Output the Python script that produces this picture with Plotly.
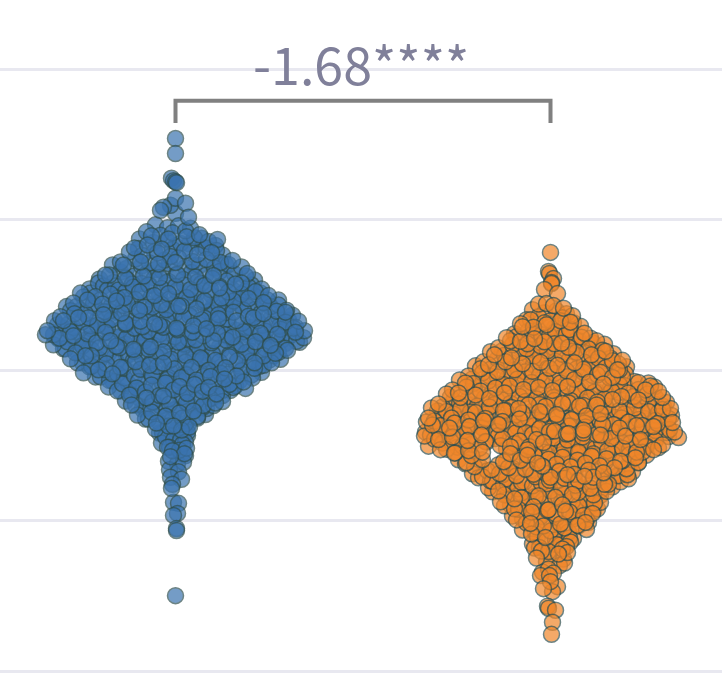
"""
    Swarm plot of two groups with a significance bracket
"""
import plotly.graph_objects as go

group_position = [0, 3.75]
grid_values = [0, 3, 6, 9, 12]
bracket_label = '-1.68****'

blue_value = [
    10.62, 10.32, 9.83, 9.78, 9.76, 9.74, 9.43, 9.25, 9.19, 9.33, 9.05, 9.13, 9.29,
    8.90, 8.84, 8.88, 8.83,
    8.76, 8.69, 8.74, 8.78, 8.70,
    8.62, 8.55, 8.60, 8.53, 8.64, 8.57, 8.61,
    8.44, 8.50, 8.42, 8.48, 8.52, 8.45, 8.49,
    8.36, 8.29, 8.34, 8.27, 8.38, 8.31, 8.35, 8.30,
    8.16, 8.22, 8.14, 8.20, 8.24, 8.17, 8.21, 8.15, 8.19,
    8.10, 8.03, 8.08, 8.01, 8.12, 8.05, 8.09, 8.04, 8.11, 8.06,
    7.90, 7.96, 7.88, 7.94, 7.98, 7.91, 7.95, 7.89, 7.97, 7.92, 7.93,
    7.82, 7.75, 7.80, 7.73, 7.84, 7.77, 7.81, 7.76, 7.83, 7.78, 7.74, 7.80,
    7.62, 7.68, 7.60, 7.66, 7.70, 7.63, 7.67, 7.61, 7.69, 7.64, 7.59, 7.66, 7.62,
    7.54, 7.47, 7.52, 7.45, 7.56, 7.49, 7.53, 7.48, 7.55, 7.50, 7.46, 7.52, 7.57, 7.49,
    7.34, 7.40, 7.32, 7.38, 7.42, 7.35, 7.39, 7.33, 7.41, 7.36, 7.31, 7.38, 7.43, 7.35, 7.40,
    7.27, 7.20, 7.25, 7.18, 7.29, 7.22, 7.26, 7.21, 7.28, 7.23, 7.19, 7.25, 7.30, 7.22, 7.27, 7.20,
    7.07, 7.13, 7.05, 7.11, 7.15, 7.08, 7.12, 7.06, 7.14, 7.09, 7.04, 7.11, 7.16, 7.08, 7.13, 7.06, 7.10,
    6.99, 6.92, 6.97, 6.90, 7.01, 6.94, 6.98, 6.93, 7.00, 6.95, 6.91, 6.97, 7.02, 6.94, 6.99, 6.92, 6.96, 6.98,
    6.79, 6.85, 6.77, 6.83, 6.87, 6.80, 6.84, 6.78, 6.86, 6.81, 6.76, 6.83, 6.88, 6.80, 6.85, 6.78, 6.82, 6.84, 6.79,
    6.71, 6.64, 6.69, 6.62, 6.73, 6.66, 6.70, 6.65, 6.72, 6.67, 6.63, 6.69, 6.74, 6.66, 6.71, 6.64, 6.68, 6.70, 6.65,
    6.51, 6.57, 6.49, 6.55, 6.59, 6.52, 6.56, 6.50, 6.58, 6.53, 6.48, 6.55, 6.60, 6.52, 6.57, 6.50, 6.54, 6.56,
    6.43, 6.36, 6.41, 6.34, 6.45, 6.38, 6.42, 6.37, 6.44, 6.39, 6.35, 6.41, 6.46, 6.38, 6.43, 6.36, 6.40,
    6.23, 6.29, 6.21, 6.27, 6.31, 6.24, 6.28, 6.22, 6.30, 6.25, 6.20, 6.27, 6.32, 6.24, 6.29, 6.22,
    6.15, 6.08, 6.13, 6.06, 6.17, 6.10, 6.14, 6.09, 6.16, 6.11, 6.07, 6.13, 6.18, 6.10, 6.15,
    5.95, 6.01, 5.93, 5.99, 6.03, 5.96, 6.00, 5.94, 6.02, 5.97, 5.92, 5.99, 6.04, 5.96,
    5.87, 5.80, 5.85, 5.78, 5.89, 5.82, 5.86, 5.81, 5.88, 5.83, 5.79, 5.85,
    5.67, 5.73, 5.65, 5.71, 5.75, 5.68, 5.72, 5.66, 5.74, 5.69, 5.64,
    5.59, 5.52, 5.57, 5.50, 5.61, 5.54, 5.58, 5.53, 5.60,
    5.39, 5.45, 5.37, 5.43, 5.47, 5.40, 5.44, 5.38,
    5.31, 5.24, 5.29, 5.22, 5.33, 5.26, 5.30,
    5.11, 5.17, 5.09, 5.15, 5.19, 5.12,
    5.03, 4.96, 5.01, 4.94, 5.05,
    4.83, 4.89, 4.81, 4.87,
    4.75, 4.68, 4.73, 4.70,
    4.55, 4.61, 4.57,
    4.47, 4.41, 4.45,
    4.28, 4.34, 4.30,
    4.19, 4.14, 4.17,
    4.02, 3.98,
    3.87, 3.83,
    3.73, 3.65, 3.37, 3.35, 3.15, 3.11, 2.85, 2.81, 1.51,
]
blue_spread = [
    0, 0, -.04, -.02, 0, .01, 0, -.12, -.15, .10, .13, 0, -.05,
    -.20, -.08, .03, .15,
    -.29, -.15, -.03, .10, .24,
    -.36, -.22, -.09, .05, .19, .33, .42,
    -.41, -.28, -.14, 0, .14, .27, .40,
    -.46, -.33, -.18, -.05, .09, .22, .36, .47,
    -.55, -.40, -.26, -.11, .03, .17, .31, .45, .57,
    -.63, -.49, -.34, -.20, -.06, .10, .24, .39, .53, .66,
    -.70, -.55, -.41, -.28, -.13, .01, .16, .30, .44, .59, .72,
    -.76, -.62, -.48, -.34, -.21, -.07, .08, .22, .37, .51, .66, .79,
    -.86, -.72, -.57, -.42, -.27, -.14, 0, .15, .29, .44, .58, .73, .86,
    -.95, -.80, -.65, -.51, -.36, -.21, -.07, .07, .22, .36, .51, .66, .80, .93,
    -1.02, -.88, -.73, -.59, -.45, -.30, -.15, -.01, .14, .28, .43, .58, .73, .88, 1.03,
    -1.09, -.95, -.80, -.66, -.52, -.38, -.23, -.09, .06, .21, .35, .50, .65, .80, .95, 1.11,
    -1.15, -1.01, -.87, -.72, -.58, -.44, -.29, -.15, 0, .14, .29, .43, .58, .73, .88, 1.03, 1.17,
    -1.21, -1.07, -.93, -.78, -.64, -.50, -.35, -.21, -.06, .08, .23, .37, .52, .67, .82, .96, 1.10, 1.23,
    -1.28, -1.13, -.99, -.84, -.70, -.56, -.41, -.27, -.12, .02, .17, .31, .46, .60, .75, .90, 1.05, 1.18, 1.29,
    -1.30, -1.16, -1.02, -.88, -.73, -.59, -.44, -.30, -.16, -.01, .13, .28, .42, .57, .72, .87, 1.01, 1.15, 1.28,
    -1.22, -1.08, -.93, -.79, -.65, -.50, -.36, -.22, -.07, .08, .22, .36, .51, .66, .80, .95, 1.10, 1.24,
    -1.12, -.98, -.84, -.70, -.56, -.41, -.27, -.12, .02, .17, .31, .46, .60, .75, .90, 1.03, 1.12,
    -1.05, -.90, -.76, -.61, -.47, -.33, -.19, -.04, .10, .25, .40, .54, .69, .84, .98, 1.05,
    -.98, -.84, -.69, -.55, -.40, -.26, -.12, .03, .17, .32, .46, .61, .75, .88, .96,
    -.92, -.77, -.63, -.48, -.34, -.20, -.06, .09, .23, .38, .52, .66, .79, .86,
    -.80, -.66, -.51, -.37, -.23, -.08, .06, .21, .35, .49, .64, .77,
    -.67, -.53, -.39, -.24, -.10, .04, .19, .33, .47, .60, .70,
    -.58, -.44, -.30, -.16, -.02, .12, .27, .41, .55,
    -.50, -.36, -.22, -.07, .07, .21, .35, .47,
    -.44, -.30, -.15, -.01, .13, .27, .38,
    -.38, -.24, -.10, .04, .18, .30,
    -.30, -.16, -.03, .10, .22,
    -.20, -.07, .06, .14,
    -.16, -.04, .08, .12,
    -.14, -.02, .10,
    -.08, .04, .11,
    -.05, .06, .10,
    -.07, .02, .08,
    -.06, .03,
    -.05, .06,
    -.03, -.04, -.02, .03, .02, -.02, .01, .01, 0,
]

# Second layer of blue points, the dense middle of the swarm
blue_value_inner = [
    8.68, 8.62, 8.66, 8.63,
    8.43, 8.37, 8.41, 8.38, 8.44, 8.39,
    8.10, 8.16, 8.12, 8.15, 8.09, 8.14, 8.11,
    7.90, 7.84, 7.88, 7.85, 7.91, 7.86, 7.89, 7.83, 7.88,
    7.74, 7.68, 7.72, 7.69, 7.75, 7.70, 7.73, 7.67, 7.72, 7.70,
    7.54, 7.60, 7.56, 7.59, 7.53, 7.58, 7.55, 7.61, 7.56, 7.58, 7.54,
    7.46, 7.40, 7.44, 7.41, 7.47, 7.42, 7.45, 7.39, 7.44, 7.42, 7.47, 7.40,
    7.27, 7.33, 7.29, 7.32, 7.26, 7.31, 7.28, 7.34, 7.29, 7.31, 7.27, 7.33, 7.30,
    7.19, 7.13, 7.17, 7.14, 7.20, 7.15, 7.18, 7.12, 7.17, 7.15, 7.20, 7.13, 7.18, 7.16,
    6.99, 7.05, 7.01, 7.04, 6.98, 7.03, 7.00, 7.06, 7.01, 7.03, 6.99, 7.05, 7.02, 7.00,
    6.91, 6.85, 6.89, 6.86, 6.92, 6.87, 6.90, 6.84, 6.89, 6.87, 6.92, 6.85, 6.90, 6.88, 6.86,
    6.71, 6.77, 6.73, 6.76, 6.70, 6.75, 6.72, 6.78, 6.73, 6.75, 6.71, 6.77, 6.74, 6.72, 6.76,
    6.63, 6.57, 6.61, 6.58, 6.64, 6.59, 6.62, 6.56, 6.61, 6.59, 6.64, 6.57, 6.62, 6.60, 6.58,
    6.43, 6.49, 6.45, 6.48, 6.42, 6.47, 6.44, 6.50, 6.45, 6.47, 6.43, 6.49, 6.46, 6.44,
    6.35, 6.29, 6.33, 6.30, 6.36, 6.31, 6.34, 6.28, 6.33, 6.31, 6.36, 6.29, 6.34,
    6.15, 6.21, 6.17, 6.20, 6.14, 6.19, 6.16, 6.22, 6.17, 6.19, 6.15, 6.21,
    6.07, 6.01, 6.05, 6.02, 6.08, 6.03, 6.06, 6.00, 6.05, 6.03, 6.08,
    5.87, 5.93, 5.89, 5.92, 5.86, 5.91, 5.88, 5.94, 5.89, 5.91,
    5.79, 5.73, 5.77, 5.74, 5.80, 5.75, 5.78, 5.72, 5.77,
    5.59, 5.65, 5.61, 5.64, 5.58, 5.63, 5.60, 5.66,
    5.51, 5.45, 5.49, 5.46, 5.52, 5.47, 5.50,
    5.31, 5.37, 5.33, 5.36, 5.30, 5.35,
    5.23, 5.17, 5.21, 5.18, 5.24,
    5.03, 5.09, 5.05, 5.08,
    4.95, 4.89, 4.93,
    4.75, 4.81, 4.77,
    4.67, 4.61,
    4.47, 4.53,
    4.40, 4.34,
]
blue_spread_inner = [
    -.24, -.07, .11, .26,
    -.37, -.21, -.03, .15, .31, .41,
    -.52, -.35, -.17, 0, .19, .36, .50,
    -.66, -.50, -.32, -.16, .02, .20, .38, .54, .70,
    -.77, -.60, -.43, -.26, -.09, .09, .26, .44, .60, .76,
    -.85, -.68, -.50, -.33, -.16, .01, .18, .35, .53, .70, .85,
    -.92, -.75, -.58, -.40, -.24, -.06, .11, .29, .46, .63, .80, .92,
    -.99, -.82, -.64, -.48, -.31, -.14, .03, .20, .38, .54, .72, .89, 1.03,
    -1.05, -.90, -.71, -.54, -.36, -.20, -.03, .16, .33, .50, .68, .85, 1.01, 1.10,
    -1.12, -.97, -.78, -.61, -.44, -.26, -.09, .08, .26, .43, .61, .78, .95, 1.13,
    -1.18, -1.02, -.85, -.68, -.50, -.33, -.16, .01, .18, .36, .53, .71, .87, 1.04, 1.20,
    -1.22, -1.05, -.88, -.70, -.53, -.36, -.19, -.02, .15, .33, .50, .68, .85, 1.02, 1.20,
    -1.17, -1.00, -.84, -.67, -.49, -.31, -.14, .03, .20, .38, .55, .72, .89, 1.06, 1.21,
    -1.10, -.93, -.76, -.59, -.42, -.25, -.08, .10, .27, .44, .61, .79, .96, 1.10,
    -1.00, -.84, -.67, -.49, -.32, -.15, .03, .20, .37, .54, .71, .88, 1.00,
    -.93, -.76, -.59, -.42, -.25, -.07, .10, .27, .44, .62, .79, .94,
    -.86, -.70, -.52, -.35, -.18, -.01, .16, .33, .50, .67, .84,
    -.75, -.58, -.41, -.24, -.07, .11, .28, .45, .61, .76,
    -.63, -.47, -.30, -.13, .04, .21, .38, .54, .68,
    -.55, -.38, -.21, -.04, .13, .30, .47, .58,
    -.46, -.29, -.12, .05, .22, .38, .47,
    -.40, -.23, -.06, .11, .28, .40,
    -.33, -.17, 0, .16, .31,
    -.27, -.10, .07, .22,
    -.19, -.02, .13,
    -.13, .01, .12,
    -.10, .05,
    -.06, .07,
    -.03, .09,
]

orange_value = [
    8.35, 7.97, 7.93, 7.83, 7.75, 7.73, 7.61, 7.53,
    7.32, 7.33, 7.29, 7.24,
    7.21, 7.15, 7.19, 7.13,
    7.01, 7.07, 6.99, 7.05, 7.09,
    6.93, 6.86, 6.91, 6.84, 6.95, 6.88,
    6.73, 6.79, 6.71, 6.77, 6.81, 6.74,
    6.65, 6.58, 6.63, 6.56, 6.67, 6.60, 6.64, 6.59,
    6.45, 6.51, 6.43, 6.49, 6.53, 6.46, 6.50, 6.44, 6.52,
    6.37, 6.30, 6.35, 6.28, 6.39, 6.32, 6.36, 6.31, 6.38, 6.33,
    6.17, 6.23, 6.15, 6.21, 6.25, 6.18, 6.22, 6.16, 6.24, 6.19, 6.20,
    6.09, 6.02, 6.07, 6.00, 6.11, 6.04, 6.08, 6.03, 6.10, 6.05, 6.01, 6.07,
    5.89, 5.95, 5.87, 5.93, 5.97, 5.90, 5.94, 5.88, 5.96, 5.91, 5.86, 5.93,
    5.81, 5.74, 5.79, 5.72, 5.83, 5.76, 5.80, 5.75, 5.82, 5.77, 5.73, 5.79, 5.78, 5.75,
    5.61, 5.67, 5.59, 5.65, 5.69, 5.62, 5.66, 5.60, 5.68, 5.63, 5.58, 5.65, 5.70, 5.62, 5.67,
    5.53, 5.46, 5.51, 5.44, 5.55, 5.48, 5.52, 5.47, 5.54, 5.49, 5.45, 5.51, 5.56, 5.48, 5.53, 5.46,
    5.33, 5.39, 5.31, 5.37, 5.41, 5.34, 5.38, 5.32, 5.40, 5.35, 5.30, 5.37, 5.42, 5.34, 5.39, 5.32, 5.36,
    5.25, 5.18, 5.23, 5.16, 5.27, 5.20, 5.24, 5.19, 5.26, 5.21, 5.17, 5.23, 5.28, 5.20, 5.25, 5.18, 5.22, 5.24,
    5.05, 5.11, 5.03, 5.09, 5.13, 5.06, 5.10, 5.04, 5.12, 5.07, 5.02, 5.09, 5.14, 5.06, 5.11, 5.04, 5.08, 5.10,
    4.97, 4.90, 4.95, 4.88, 4.99, 4.92, 4.96, 4.91, 4.98, 4.93, 4.89, 4.95, 5.00, 4.92, 4.97, 4.90, 4.94, 4.96,
    4.77, 4.83, 4.75, 4.81, 4.85, 4.78, 4.82, 4.76, 4.84, 4.79, 4.74, 4.81, 4.86, 4.78, 4.83, 4.76, 4.80, 4.82, 4.77,
    4.69, 4.62, 4.67, 4.60, 4.71, 4.64, 4.68, 4.63, 4.70, 4.65, 4.61, 4.67, 4.72, 4.64, 4.69, 4.62, 4.66, 4.68, 4.66,
    4.49, 4.55, 4.47, 4.53, 4.57, 4.50, 4.54, 4.48, 4.56, 4.51, 4.46, 4.53, 4.58, 4.50, 4.55, 4.48, 4.52,
    4.42, 4.35, 4.40, 4.37, 4.44, 4.37, 4.41, 4.36, 4.43, 4.38, 4.34, 4.40, 4.45, 4.37, 4.42,
    4.22, 4.28, 4.20, 4.26, 4.30, 4.23, 4.27, 4.21, 4.29, 4.24, 4.19, 4.26, 4.31,
    4.14, 4.07, 4.12, 4.05, 4.16, 4.09, 4.13, 4.08, 4.15, 4.10, 4.06, 4.12, 4.17,
    3.94, 4.00, 3.92, 3.98, 4.02, 3.95, 3.99, 3.93, 4.01, 3.96, 3.91, 3.98,
    3.86, 3.79, 3.84, 3.77, 3.88, 3.81, 3.85, 3.80, 3.87, 3.82, 3.78, 3.84,
    3.66, 3.72, 3.64, 3.70, 3.74, 3.67, 3.71, 3.65, 3.73, 3.68,
    3.58, 3.51, 3.56, 3.49, 3.60, 3.53, 3.57, 3.52, 3.59,
    3.38, 3.44, 3.36, 3.42, 3.46, 3.39, 3.43, 3.37,
    3.30, 3.23, 3.28, 3.21, 3.32, 3.25, 3.29, 3.24,
    3.10, 3.16, 3.08, 3.14, 3.18, 3.11, 3.15,
    3.02, 2.95, 3.00, 2.93, 3.04, 2.97,
    2.82, 2.88, 2.80, 2.86, 2.90, 2.83,
    2.74, 2.67, 2.72, 2.65,
    2.54, 2.60, 2.52, 2.58,
    2.46, 2.39, 2.44, 2.37,
    2.26, 2.32, 2.24,
    2.18, 2.11, 2.16,
    1.98, 2.04, 1.96,
    1.91, 1.91, 1.79, 1.65, 1.69, 1.59, 1.30, 1.26, 1.22, 0.98, 0.74,
]
orange_spread = [
    0, -.02, -.01, .03, .01, .01, -.06, .07,
    -.12, -.04, .03, .13,
    -.18, -.06, .06, .16,
    -.24, -.12, 0, .12, .22,
    -.30, -.17, -.04, .09, .23, .30,
    -.36, -.22, -.09, .05, .19, .34,
    -.44, -.30, -.16, -.02, .12, .26, .40, .46,
    -.52, -.38, -.24, -.10, .04, .18, .32, .46, .54,
    -.60, -.46, -.31, -.17, -.03, .12, .26, .41, .55, .63,
    -.67, -.53, -.39, -.24, -.10, .05, .19, .34, .48, .62, .72,
    -.75, -.60, -.46, -.32, -.17, -.03, .11, .26, .40, .55, .69, .76,
    -.82, -.68, -.53, -.39, -.25, -.11, .04, .18, .33, .47, .62, .75,
    -.91, -.77, -.62, -.47, -.33, -.19, -.05, .10, .24, .39, .53, .67, .84, .98,
    -.98, -.84, -.70, -.55, -.41, -.27, -.12, .02, .17, .31, .46, .60, .74, .88, 1.04,
    -1.04, -.90, -.75, -.61, -.46, -.32, -.18, -.03, .11, .26, .40, .55, .69, .83, .97, 1.12,
    -1.12, -.97, -.83, -.68, -.54, -.40, -.25, -.11, .04, .18, .33, .47, .62, .76, .91, 1.05, 1.16,
    -1.19, -1.04, -.90, -.75, -.61, -.47, -.32, -.18, -.03, .11, .26, .40, .55, .69, .84, .98, 1.12, 1.20,
    -1.22, -1.08, -.94, -.79, -.65, -.51, -.36, -.22, -.08, .07, .21, .36, .50, .65, .79, .94, 1.08, 1.21,
    -1.24, -1.10, -.96, -.81, -.67, -.52, -.38, -.24, -.09, .05, .20, .34, .49, .63, .78, .92, 1.07, 1.22,
    -1.25, -1.11, -.97, -.83, -.68, -.54, -.39, -.25, -.11, .04, .18, .33, .47, .62, .76, .91, 1.05, 1.19, 1.24,
    -1.26, -1.12, -.98, -.83, -.69, -.55, -.40, -.26, -.12, .03, .17, .32, .46, .61, .75, .90, 1.04, 1.18, 1.28,
    -1.22, -1.08, -.93, -.79, -.64, -.50, -.36, -.21, -.07, .08, .22, .37, .51, .66, .80, .95, 1.12,
    -1.10, -.96, -.82, -.68, -.44, -.30, -.15, -.01, .14, .28, .43, .57, .72, .86, 1.03,
    -.92, -.78, -.44, -.30, -.16, -.02, .12, .27, .41, .56, .70, .85, .96,
    -.85, -.70, -.52, -.38, -.23, -.09, .06, .20, .35, .49, .64, .78, .88,
    -.78, -.63, -.48, -.34, -.20, -.05, .09, .24, .38, .53, .67, .82,
    -.72, -.58, -.44, -.29, -.15, -.01, .14, .28, .43, .57, .70, .78,
    -.62, -.47, -.33, -.18, -.04, .11, .25, .40, .54, .62,
    -.58, -.43, -.29, -.15, 0, .14, .28, .43, .56,
    -.50, -.36, -.21, -.07, .08, .22, .37, .50,
    -.46, -.32, -.17, -.03, .12, .26, .40, .47,
    -.38, -.24, -.10, .05, .19, .33, .42,
    -.34, -.20, -.06, .09, .23, .38,
    -.28, -.14, 0, .14, .28, .36,
    -.19, -.05, .09, .23,
    -.18, -.04, .10, .20,
    -.16, -.02, .12, .17,
    -.14, -.01, .13,
    -.04, .09, .14,
    -.08, -.02, .03,
    -.10, -.01, 0, -.07, .07, .02, -.03, -.02, .05, .02, .01,
]

# Second layer of orange points
orange_value_inner = [
    7.01, 6.95, 6.99, 6.96,
    6.87, 6.81, 6.85, 6.82,
    6.67, 6.73, 6.69, 6.72, 6.66,
    6.59, 6.53, 6.57, 6.54, 6.60, 6.55,
    6.39, 6.45, 6.41, 6.44, 6.38, 6.43, 6.40,
    6.31, 6.25, 6.29, 6.26, 6.32, 6.27, 6.30, 6.24,
    6.11, 6.17, 6.13, 6.16, 6.10, 6.15, 6.12, 6.18, 6.13,
    6.03, 5.97, 6.01, 5.98, 6.04, 5.99, 6.02, 5.96, 6.01,
    5.83, 5.89, 5.85, 5.88, 5.82, 5.87, 5.84, 5.90, 5.85, 5.87,
    5.75, 5.69, 5.73, 5.70, 5.76, 5.71, 5.74, 5.68, 5.73, 5.71, 5.76, 5.69,
    5.55, 5.61, 5.57, 5.60, 5.54, 5.59, 5.56, 5.62, 5.57, 5.59, 5.55, 5.61, 5.58,
    5.47, 5.41, 5.45, 5.42, 5.48, 5.43, 5.46, 5.40, 5.45, 5.43, 5.48, 5.41, 5.46,
    5.27, 5.33, 5.29, 5.32, 5.26, 5.31, 5.28, 5.34, 5.29, 5.31, 5.27, 5.33, 5.30, 5.28,
    5.19, 5.13, 5.17, 5.14, 5.20, 5.15, 5.18, 5.12, 5.17, 5.15, 5.20, 5.13, 5.18, 5.16,
    4.99, 5.05, 5.01, 5.04, 4.98, 5.03, 5.00, 5.06, 5.01, 5.03, 4.99, 5.05, 5.02, 5.00, 5.04,
    4.91, 4.85, 4.89, 4.86, 4.92, 4.87, 4.90, 4.84, 4.89, 4.87, 4.92, 4.85, 4.90, 4.88, 4.86,
    4.71, 4.77, 4.73, 4.76, 4.70, 4.75, 4.72, 4.78, 4.73, 4.75, 4.71, 4.77, 4.74, 4.72, 4.76,
    4.63, 4.57, 4.61, 4.58, 4.64, 4.59, 4.62, 4.56, 4.61, 4.59, 4.64, 4.57, 4.62, 4.60,
    4.43, 4.49, 4.45, 4.48, 4.42, 4.47, 4.44, 4.50, 4.45, 4.47, 4.43, 4.49, 4.46,
    4.36, 4.30, 4.34, 4.31, 4.37, 4.32, 4.35, 4.29, 4.34, 4.32, 4.37,
    4.16, 4.22, 4.18, 4.21, 4.15, 4.20, 4.17, 4.23, 4.18, 4.20, 4.16,
    4.08, 4.02, 4.06, 4.03, 4.09, 4.04, 4.07, 4.01, 4.06, 4.04,
    3.88, 3.94, 3.90, 3.93, 3.87, 3.92, 3.89, 3.95, 3.90, 3.92,
    3.80, 3.74, 3.78, 3.75, 3.81, 3.76, 3.79, 3.73,
    3.60, 3.66, 3.62, 3.65, 3.59, 3.64, 3.61,
    3.52, 3.46, 3.50, 3.47, 3.53, 3.48, 3.51,
    3.32, 3.38, 3.34, 3.37, 3.31, 3.36,
    3.24, 3.18, 3.22, 3.19, 3.25, 3.20,
    3.04, 3.10, 3.06, 3.09, 3.03,
    2.96, 2.90, 2.94, 2.91, 2.97,
    2.76, 2.82, 2.78,
    2.68, 2.62, 2.66,
    2.47, 2.53, 2.49,
    2.40, 2.34,
]
orange_spread_inner = [
    -.20, -.06, .10, .20,
    -.28, -.12, .04, .20,
    -.34, -.18, -.01, .16, .31,
    -.40, -.23, -.06, .11, .28, .42,
    -.48, -.30, -.13, .04, .21, .38, .52,
    -.56, -.39, -.22, -.05, .12, .29, .46, .60,
    -.62, -.45, -.28, -.10, .07, .24, .41, .58, .68,
    -.70, -.53, -.36, -.18, -.01, .16, .33, .50, .67,
    -.78, -.61, -.43, -.26, -.09, .08, .25, .42, .59, .72,
    -.85, -.68, -.51, -.34, -.16, .01, .18, .35, .52, .69, .88, 1.00,
    -.92, -.76, -.58, -.41, -.24, -.07, .10, .27, .44, .61, .78, .95, 1.08,
    -1.00, -.83, -.66, -.49, -.31, -.14, .03, .20, .37, .54, .71, .88, 1.05,
    -1.08, -.91, -.73, -.56, -.39, -.22, -.05, .12, .29, .46, .63, .80, .97, 1.13,
    -1.13, -.97, -.80, -.63, -.45, -.28, -.11, .06, .23, .40, .57, .74, .91, 1.08,
    -1.16, -.99, -.82, -.65, -.48, -.31, -.14, .03, .20, .37, .54, .71, .88, 1.05, 1.18,
    -1.18, -1.01, -.84, -.67, -.50, -.33, -.16, .01, .18, .35, .52, .69, .86, 1.03, 1.18,
    -1.20, -1.03, -.86, -.69, -.52, -.35, -.18, -.01, .16, .33, .50, .67, .84, 1.01, 1.16,
    -1.16, -.99, -.82, -.65, -.48, -.31, -.14, .03, .20, .37, .54, .71, .88, 1.05,
    -1.04, -.88, -.71, -.40, -.23, -.06, .11, .28, .45, .62, .79, .96, 1.08,
    -.95, -.79, -.40, -.23, -.06, .11, .28, .45, .62, .79, .92,
    -.84, -.68, -.47, -.30, -.13, .04, .21, .38, .55, .72, .88,
    -.76, -.59, -.42, -.25, -.08, .09, .26, .43, .60, .76,
    -.68, -.51, -.34, -.17, 0, .17, .34, .51, .68, .77,
    -.60, -.43, -.26, -.09, .08, .25, .42, .58,
    -.52, -.35, -.18, -.01, .16, .33, .50,
    -.46, -.29, -.12, .05, .22, .38, .50,
    -.40, -.23, -.06, .11, .28, .44,
    -.36, -.19, -.02, .15, .32, .43,
    -.28, -.11, .06, .23, .36,
    -.24, -.07, .10, .27, .35,
    -.15, .02, .18,
    -.13, .05, .19,
    -.11, .06, .16,
    -.09, .08,
]


def scatter_order(count):
    """
        Draw order that mixes the rows, so the markers overlap as in a swarm
    """
    return sorted(range(count), key=lambda i: (i * 61) % count)


def swarm_trace(center, spread, value, color):
    order = scatter_order(len(value))
    return go.Scatter(
        x=[center + spread[i] for i in order],
        y=[value[i] for i in order],
        mode='markers',
        marker=dict(size=16, color=color, opacity=0.7,
                    line=dict(color='darkslategrey', width=1.5)),
        showlegend=False,
    )


data = [
    swarm_trace(group_position[0], blue_spread + blue_spread_inner,
                blue_value + blue_value_inner, '#3a73af'),
    swarm_trace(group_position[1], orange_spread + orange_spread_inner,
                orange_value + orange_value_inner, '#f08629'),
    # Bracket between the two groups
    go.Scatter(
        x=[group_position[0], group_position[0], group_position[1], group_position[1]],
        y=[10.93, 11.37, 11.37, 10.93],
        mode='lines',
        line=dict(color='#808080', width=4),
        showlegend=False,
    ),
]

layout = go.Layout(
    width=722,
    height=682,
    margin=dict(t=0, b=0, l=0, r=0),
    plot_bgcolor='white',
    paper_bgcolor='white',
    hovermode='closest',
    xaxis=dict(range=[-1.755, 5.465], showgrid=False, zeroline=False,
               showticklabels=False, ticks=''),
    yaxis=dict(range=[-0.21, 13.38], tickvals=grid_values, showticklabels=False,
               showgrid=True, gridcolor='#e8e8f0', gridwidth=3,
               zeroline=False, ticks=''),
    annotations=[dict(
        x=sum(group_position) / 2, y=11.37, xref='x', yref='y',
        text=bracket_label, showarrow=False, yanchor='bottom', xshift=-2, yshift=-1,
        font=dict(family='Noto Sans CJK SC', size=52, color='#80809a'),
    )],
)

fig = go.Figure(data=data, layout=layout)
fig.write_html("out.html", config={'displayModeBar': False},
               post_script="document.body.style.margin='0';")
